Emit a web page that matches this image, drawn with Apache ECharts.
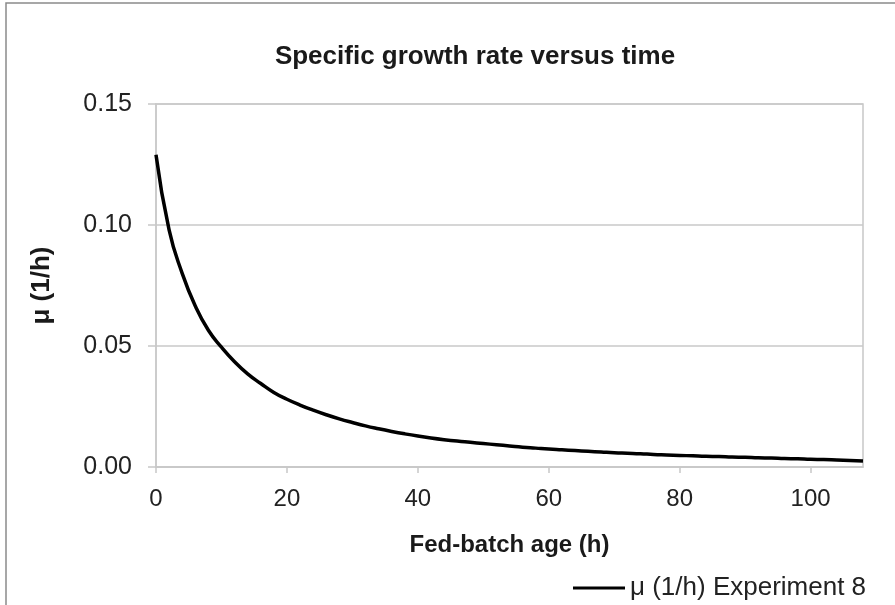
<!DOCTYPE html>
<html><head><meta charset="utf-8">
<script src="https://cdn.jsdelivr.net/npm/echarts@6/dist/echarts.min.js"></script>
<style>html,body{margin:0;padding:0;background:#fff}#c{width:895px;height:605px}</style>
</head><body><div id="c"></div>
<script>
var titleText = "Specific growth rate versus time";
var xName = "Fed-batch age (h)";
var yName = "μ (1/h)";
var seriesName = "μ (1/h) Experiment 8";
var hours = [0,2,4,6,8,10,12,14,16,18,20,22,24,26,28,30,32,34,36,38,40,42,44,46,48,50,52,54,56,58,60,62,64,66,68,70,72,74,76,78,80,82,84,86,88,90,92,94,96,98,100,102,104,106,108];
var mu = [0.129,0.098,0.080,0.0665,0.0565,0.0495,0.0435,0.0385,0.0345,0.0308,0.0280,0.0256,0.0235,0.0216,0.0199,0.0184,0.0170,0.0158,0.0147,0.0137,0.0128,0.0120,0.0113,0.0107,0.0102,0.0097,0.0092,0.0087,0.0082,0.0078,0.0074,0.0071,0.0068,0.0065,0.0062,0.0059,0.0057,0.0055,0.0052,0.0050,0.0048,0.0046,0.0044,0.0043,0.0041,0.0040,0.0038,0.0037,0.0035,0.0034,0.0032,0.0031,0.0029,0.0027,0.0025];
var xTicks = [0,20,40,60,80,100];

var chart = echarts.init(document.getElementById('c'));
var data = hours.map(function(h,i){return [h, mu[i]];});
var gray = '#c8c8c8';
var ff = 'Liberation Sans, Arial, sans-serif';
chart.setOption({
  animation:false,
  textStyle:{fontFamily:ff},
  title:{text:titleText,left:470,top:39,textAlign:'center',
    textStyle:{fontSize:26,fontWeight:'bold',color:'#1a1a1a',fontFamily:ff}},
  graphic:[{type:'rect',shape:{x:6,y:3,width:1000,height:800},style:{fill:'none',stroke:'#8a8a8a',lineWidth:1.5},silent:true}],
  legend:{left:568,top:570,itemWidth:52,itemHeight:3,itemGap:5,icon:'rect',
    data:[{name:seriesName,itemStyle:{color:'#000'}}],
    textStyle:{fontSize:26,color:'#222',fontFamily:ff}},
  grid:{left:156,right:32,top:104,bottom:138,show:true,borderColor:gray,borderWidth:1.5,backgroundColor:'transparent'},
  xAxis:{type:'value',min:0,max:108,interval:20,
    name:xName,nameLocation:'middle',nameGap:66,
    nameTextStyle:{fontSize:24,fontWeight:'bold',color:'#1a1a1a',fontFamily:ff},
    axisLine:{show:true,lineStyle:{color:gray,width:1.5}},
    axisTick:{show:true,length:6,customValues:xTicks,lineStyle:{color:gray,width:1.5}},
    axisLabel:{customValues:xTicks,fontSize:24,color:'#222',margin:20,fontFamily:ff},
    splitLine:{show:false}},
  yAxis:{type:'value',min:0,max:0.15,interval:0.05,
    name:yName,nameLocation:'middle',nameGap:101,nameRotate:90,
    nameTextStyle:{fontSize:26,fontWeight:'bold',color:'#1a1a1a',fontFamily:ff},
    axisLine:{show:true,lineStyle:{color:gray,width:1.5}},
    axisTick:{show:true,length:8,lineStyle:{color:gray,width:1.5}},
    axisLabel:{fontSize:25,color:'#222',margin:24,fontFamily:ff,formatter:function(v){return v.toFixed(2);}},
    splitLine:{show:true,lineStyle:{color:gray,width:1.5}}},
  series:[{name:seriesName,type:'line',data:data,smooth:true,showSymbol:false,
    lineStyle:{color:'#000',width:3.5},itemStyle:{color:'#000'}}]
});
</script></body></html>
